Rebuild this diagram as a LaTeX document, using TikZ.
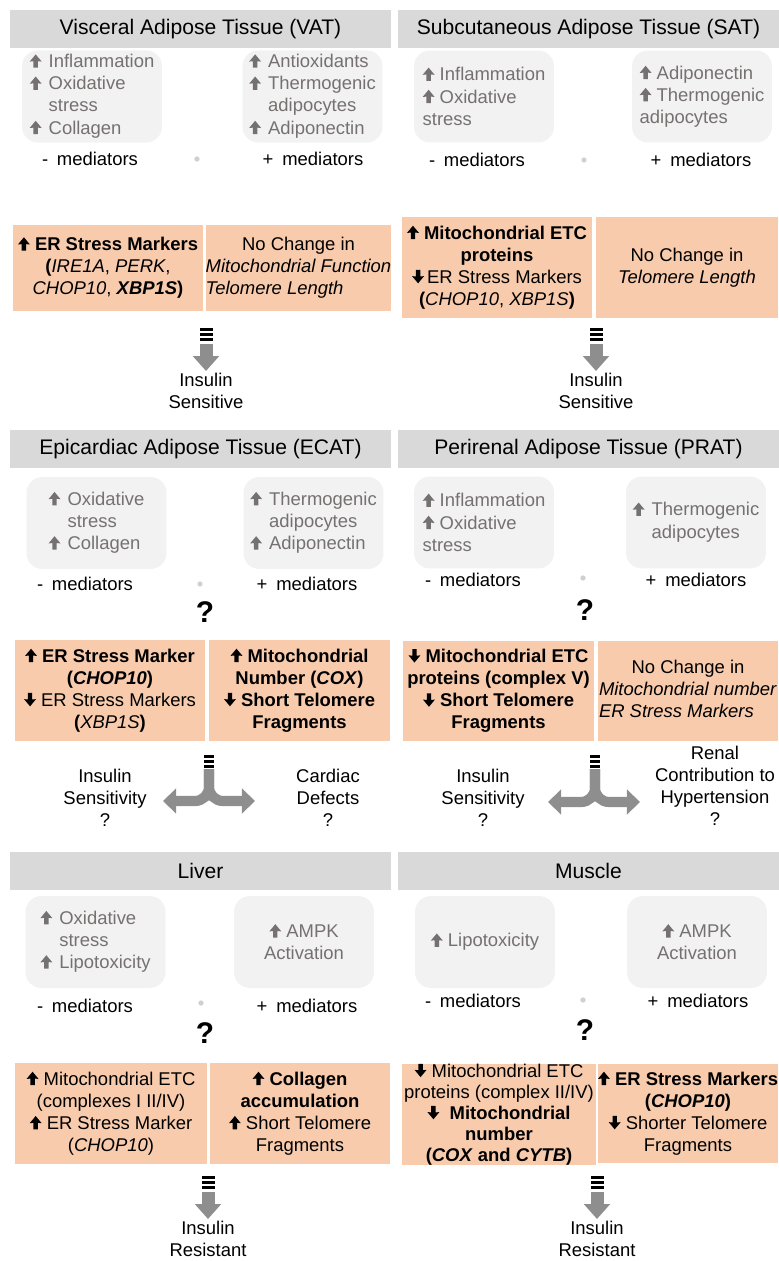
\documentclass[tikz,border=0pt]{standalone}
\usepackage{fontspec}
\setmainfont{Liberation Sans}
\usepackage{tikz}
\usetikzlibrary{arrows.meta, positioning}
\definecolor{hdrgrey}{HTML}{D9D9D9}
\definecolor{medgrey}{HTML}{F2F2F2}
\definecolor{medtext}{HTML}{767171}
\definecolor{findorange}{HTML}{F8CBAD}
\definecolor{arrgrey}{HTML}{8E8E8E}
\definecolor{dotgrey}{HTML}{D0D0D0}
\newcommand\txtsz{\fontsize{10.5}{12.6}\selectfont}
% small block arrows used inside the text
\newcommand\upar[1][black]{\tikz[baseline=0pt, x=1pt, y=1pt, sharp corners]\fill[#1] (-1.25,0) -- (1.25,0) -- (1.25,3.7) -- (3.4,3.5) -- (0,7.6) -- (-3.4,3.5) -- (-1.25,3.7) -- cycle;}
\newcommand\dnar[1][black]{\tikz[baseline=0pt, x=1pt, y=1pt, sharp corners]\fill[#1] (-1.25,7.6) -- (1.25,7.6) -- (1.25,3.9) -- (3.4,4.1) -- (0,0) -- (-3.4,4.1) -- (-1.25,3.9) -- cycle;}
\newcommand\gupar{\upar[medtext]}

\begin{document}
\begin{tikzpicture}[x=0.02cm, y=-0.02cm]
  \tikzset{
    hdr/.style={fill=hdrgrey, minimum width=7.62cm, minimum height=0.76cm, inner sep=0pt,
      font=\fontsize{12}{14}\selectfont},
    medbox/.style={fill=medgrey, rounded corners=9pt, minimum width=2.8cm, minimum height=1.84cm,
      inner sep=1pt, text=medtext, font=\txtsz, align=left},
    medlbl/.style={font=\txtsz, inner sep=0pt},
    findbox/.style={fill=findorange, minimum height=2.02cm, inner sep=0pt, font=\txtsz, align=center},
    outcome/.style={font=\txtsz, align=center, inner sep=1pt},
    qmark/.style={font=\fontsize{17}{18}\selectfont\bfseries, inner sep=0pt},
    downarr/.style={draw=arrgrey, line width=7.4pt, -{Triangle[width=14.5pt, length=8.5pt]}},
    splitarr/.style={draw=arrgrey, line width=5.8pt, rounded corners=8pt, -{Triangle[width=14pt, length=7.5pt]}},
  }
  \useasboundingbox (0,0) rectangle (778,1261);

  % ---- VAT ----
  \node[hdr] (vahdr) at (200.5,29) {Visceral Adipose Tissue (VAT)};
  \node[medbox] (vaneg) at (92,96.5) {\begin{tabular}{@{}l@{\hspace{4pt}}l@{}}
    \gupar & Inflammation\\ \gupar & Oxidative\\ & stress\\ \gupar & Collagen\end{tabular}};
  \node[medbox] (vapos) at (312.5,96.5) {\begin{tabular}{@{}l@{\hspace{4pt}}l@{}}
    \gupar & Antioxidants\\ \gupar & Thermogenic\\ & adipocytes\\ \gupar & Adiponectin\end{tabular}};
  \node[medlbl] (vanegl) at (90,159) {-\hspace{5pt}mediators};
  \node[medlbl] (vaposl) at (313,159) {+\hspace{5pt}mediators};
  \node[findbox, minimum width=3.8cm, minimum height=1.72cm] (vaer) at (108,268)
    {\upar\ \textbf{ER Stress Markers}\\ \textbf{(}\textit{IRE1A}, \textit{PERK},\\
     \textit{CHOP10}, \textbf{\textit{XBP1S})}};
  \node[findbox, minimum width=3.66cm, minimum height=1.72cm] (vanc) at (298.5,268)
    {\begin{tabular}{@{}l@{}}\multicolumn{1}{@{}c@{}}{No Change in}\\
     \textit{Mitochondrial Function}\\ \textit{Telomere Length}\end{tabular}};
  \node[outcome, anchor=north] (vares) at (206,371) {Insulin\\Sensitive};

  % ---- SAT ----
  \node[hdr] (sahdr) at (588.5,29) {Subcutaneous Adipose Tissue (SAT)};
  \node[medbox] (saneg) at (484,96.5) {\gupar\ Inflammation\\ \gupar\ Oxidative\\ stress};
  \node[medbox] (sapos) at (702,96.5) {\gupar\ Adiponectin\\ \gupar\ Thermogenic\\ adipocytes};
  \node[medlbl] (sanegl) at (477,160) {-\hspace{5pt}mediators};
  \node[medlbl] (saposl) at (701,160) {+\hspace{5pt}mediators};
  \node[findbox, minimum width=3.8cm] (saetc) at (497,267.5)
    {\upar\ \textbf{Mitochondrial ETC}\\ \textbf{proteins}\\ \dnar\,ER Stress Markers\\
     \textbf{(}\textit{CHOP10}, \textit{XBP1S}\textbf{)}};
  \node[findbox, minimum width=3.64cm] (sanc) at (687,267.5) {No Change in\\ \textit{Telomere Length}};
  \node[outcome, anchor=north] (sares) at (596,371) {Insulin\\Sensitive};

  % ---- ECAT ----
  \node[hdr] (echdr) at (200.5,449) {Epicardiac Adipose Tissue (ECAT)};
  \node[medbox] (ecneg) at (96.5,523) {\begin{tabular}{@{}l@{\hspace{4pt}}l@{}}
    \gupar & Oxidative\\ & stress\\ \gupar & Collagen\end{tabular}};
  \node[medbox] (ecpos) at (313.5,523) {\begin{tabular}{@{}l@{\hspace{4pt}}l@{}}
    \gupar & Thermogenic\\ & adipocytes\\ \gupar & Adiponectin\end{tabular}};
  \node[medlbl] (ecnegl) at (85,584) {-\hspace{5pt}mediators};
  \node[medlbl] (ecposl) at (307,584) {+\hspace{5pt}mediators};
  \node[qmark] (ecq) at (205,612) {?};
  \node[findbox, minimum width=3.8cm] (ecer) at (110,690.5)
    {\upar\ \textbf{ER Stress Marker}\\ \textbf{(\textit{CHOP10})}\\ \dnar\ ER Stress Markers\\
     \textbf{(}\textit{XBP1S}\textbf{)}};
  \node[findbox, minimum width=3.62cm] (ecmito) at (299.5,690.5)
    {\upar\ \textbf{Mitochondrial}\\ \textbf{Number (\textit{COX})}\\ \dnar\ \textbf{Short Telomere}\\
     \textbf{Fragments}};
  \node[outcome] (ecins) at (105,798) {Insulin\\Sensitivity\\?};
  \node[outcome] (eccard) at (328,798) {Cardiac\\Defects\\?};

  % ---- PRAT ----
  \node[hdr] (prhdr) at (588.5,449) {Perirenal Adipose Tissue (PRAT)};
  \node[medbox] (prneg) at (484,522.5) {\gupar\ Inflammation\\ \gupar\ Oxidative\\ stress};
  \node[medbox] (prpos) at (696,522.5) {\begin{tabular}{@{}l@{\hspace{4pt}}l@{}}
    \gupar & Thermogenic\\ & adipocytes\end{tabular}};
  \node[medlbl] (prnegl) at (473,580) {-\hspace{5pt}mediators};
  \node[medlbl] (prposl) at (696,580) {+\hspace{5pt}mediators};
  \node[qmark] (prq) at (585,610) {?};
  \node[findbox, minimum width=3.82cm] (prmito) at (498.5,691)
    {\dnar\ \textbf{Mitochondrial ETC}\\ \textbf{proteins (complex V)}\\ \dnar\ \textbf{Short Telomere}\\
     \textbf{Fragments}};
  \node[findbox, minimum width=3.6cm, minimum height=2cm] (prnc) at (688,691)
    {\begin{tabular}{@{}l@{}}\multicolumn{1}{@{}c@{}}{No Change in}\\
     \textit{Mitochondrial number}\\ \textit{ER Stress Markers}\end{tabular}};
  \node[outcome] (prins) at (483,798) {Insulin\\Sensitivity\\?};
  \node[outcome] (prren) at (715,786) {Renal\\Contribution to\\Hypertension\\?};

  % ---- Liver ----
  \node[hdr] (lihdr) at (200.5,871) {Liver};
  \node[medbox] (lineg) at (95.5,942) {\begin{tabular}{@{}l@{\hspace{4pt}}l@{}}
    \gupar & Oxidative\\ & stress\\ \gupar & Lipotoxicity\end{tabular}};
  \node[medbox, align=center] (lipos) at (304,942) {\gupar\ AMPK\\ Activation};
  \node[medlbl] (linegl) at (85,1006) {-\hspace{5pt}mediators};
  \node[medlbl] (liposl) at (307,1006) {+\hspace{5pt}mediators};
  \node[qmark] (liq) at (205,1033) {?};
  \node[findbox, minimum width=3.84cm] (lietc) at (111,1113.5)
    {\upar\ Mitochondrial ETC\\ (complexes I II/IV)\\ \upar\ ER Stress Marker\\ (\textit{CHOP10})};
  \node[findbox, minimum width=3.6cm] (licol) at (300,1113.5)
    {\upar\ \textbf{Collagen}\\ \textbf{accumulation}\\ \upar\ Short Telomere\\ Fragments};
  \node[outcome, anchor=north] (lires) at (208,1219) {Insulin\\Resistant};

  % ---- Muscle ----
  \node[hdr] (muhdr) at (588.5,871) {Muscle};
  \node[medbox] (muneg) at (485,942) {\gupar\ Lipotoxicity};
  \node[medbox, align=center] (mupos) at (697,942) {\gupar\ AMPK\\ Activation};
  \node[medlbl] (munegl) at (473,1001) {-\hspace{5pt}mediators};
  \node[medlbl] (muposl) at (698,1001) {+\hspace{5pt}mediators};
  \node[qmark] (muq) at (585,1030) {?};
  \node[findbox, minimum width=3.88cm, font=\fontsize{10.5}{12}\selectfont] (mumito) at (499,1114.5)
    {\dnar\ Mitochondrial ETC\\ proteins (complex II/IV)\\ \dnar\ \ \textbf{Mitochondrial}\\
     \textbf{number}\\ \textbf{(\textit{COX} and \textit{CYTB})}};
  \node[findbox, minimum width=3.6cm, minimum height=1.98cm] (muer) at (688,1113.5)
    {\upar\ \textbf{ER Stress Markers}\\ \textbf{(\textit{CHOP10})}\\ \dnar\ Shorter Telomere\\ Fragments};
  \node[outcome, anchor=north] (mures) at (597,1219) {Insulin\\Resistant};

  % faint dots between the mediator labels
  \foreach \xx/\yy in {197/159, 584/160, 200/584, 583/578, 201/1003, 583/1000}
    \fill[dotgrey] (\xx,\yy) circle (1.5pt);

  % striped arrows
  \foreach \xx/\yy/\ww in {206/328/13, 596/328/13, 208/1176/13, 597/1176/13, 209/755/10, 595/755/10}
    \foreach \d in {0,5,10}
      \fill ({\xx-\ww/2},{\yy+\d}) rectangle ++(\ww,3);
  \coordinate (vastem) at (206,344);
  \coordinate (sastem) at (596,344);
  \coordinate (listem) at (208,1192);
  \coordinate (mustem) at (597,1192);
  \draw[downarr] (vastem) -- (vares.north);
  \draw[downarr] (sastem) -- (sares.north);
  \draw[downarr] (listem) -- (lires.north);
  \draw[downarr] (mustem) -- (mures.north);

  \coordinate (ecstem) at (209,769);
  \coordinate (ecleft) at (163,801);
  \coordinate (ecright) at (255,801);
  \coordinate (prstem) at (595,769);
  \coordinate (prleft) at (548,802);
  \coordinate (prright) at (640,802);
  \draw[splitarr] (ecstem) |- (ecleft);
  \draw[splitarr] (ecstem) |- (ecright);
  \draw[splitarr] (prstem) |- (prleft);
  \draw[splitarr] (prstem) |- (prright);
\end{tikzpicture}
\end{document}
